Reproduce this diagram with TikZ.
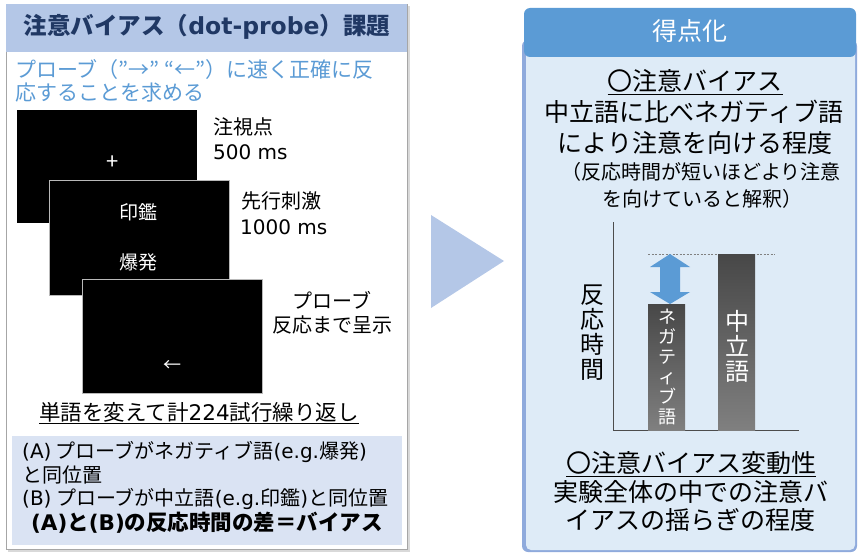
\documentclass[tikz,border=0pt]{standalone}
\usepackage{fontspec}
\setmainfont{Noto Sans CJK JP}
\newfontfamily\latfont{DejaVu Sans}
\newcommand{\lat}[1]{{\latfont #1}}
\usetikzlibrary{shapes.geometric}
\definecolor{hdrblue}{HTML}{B4C7E7}
\definecolor{darkblue}{HTML}{203864}
\definecolor{midblue}{HTML}{5B9BD5}
\definecolor{instrblue}{HTML}{5B9BD5}
\definecolor{paleblue}{HTML}{DAE3F3}
\definecolor{bodyblue}{HTML}{DEEBF7}
\definecolor{edgeblue}{HTML}{8FAADC}
\newcommand{\fsz}[1]{\fontsize{#1}{#1}\selectfont}
\begin{document}
\begin{tikzpicture}[x=1pt,y=-1pt,
  txt/.style={inner sep=0pt, text=black},
  screenbox/.style={draw=gray!55, line width=0.8pt, fill=black},
  scrtxt/.style={inner sep=0pt, text=white, font=\fsz{19}},
  lbl/.style={inner sep=0pt, anchor=west, font=\fsz{20}},
  rtxt/.style={inner sep=0pt, font=\fsz{25}},
  bar/.style={top color=black!72, bottom color=black!50, draw=none}
]
\useasboundingbox (0,0) rectangle (858,553);
% ---------------- left panel ----------------
\fill[black!15] (8,6) rectangle (410,552);
\node[draw=black!35, fill=white, line width=0.8pt, minimum width=401pt, minimum height=545pt, anchor=north west, inner sep=0pt] (leftpanel) at (6,4) {};
\node[fill=hdrblue, minimum width=401pt, minimum height=48pt, anchor=north west, inner sep=0pt] (lefthdr) at (6,4) {};
\node[inner sep=0pt, text=darkblue, font=\fsz{23.5}\bfseries] (title) at (207,27) {注意バイアス（\lat{dot-probe}）課題};
\node[inner sep=0pt, anchor=west, text=instrblue, font=\fsz{21}] (instr1) at (15,70) {プローブ（”→” “←”）に速く正確に反};
\node[inner sep=0pt, anchor=west, text=instrblue, font=\fsz{21}] (instr2) at (15,93) {応することを求める};
% screens
\node[fill=black, minimum width=180pt, minimum height=113pt, anchor=north west, inner sep=0pt] (scr1) at (17,110) {};
\node[inner sep=0pt, text=white, font=\fsz{22}] (plus) at (113,163) {+};
\node[screenbox, minimum width=180pt, minimum height=115pt, anchor=north west, inner sep=0pt] (scr2) at (49,180) {};
\node[scrtxt] (w1) at (138,212) {印鑑};
\node[scrtxt] (w2) at (138,262) {爆発};
\node[screenbox, minimum width=180pt, minimum height=114pt, anchor=north west, inner sep=0pt] (scr3) at (82,279) {};
\node[inner sep=0pt, text=white, font=\fsz{18}] (larrow) at (172,366) {←};
% labels
\node[lbl] (l1a) at (213,127) {注視点};
\node[lbl] (l1b) at (213,152) {\lat{500 ms}};
\node[lbl] (l2a) at (241,201) {先行刺激};
\node[lbl] (l2b) at (240,227) {\lat{1000 ms}};
\node[inner sep=0pt, font=\fsz{20}] (l3a) at (332,300) {プローブ};
\node[inner sep=0pt, font=\fsz{20}] (l3b) at (332,325) {反応まで呈示};
\node[inner sep=0pt, font=\fsz{21.5}] (repeat) at (199,413) {\underline{単語を変えて計\lat{224}試行繰り返し}};
% summary box
\node[fill=paleblue, minimum width=390pt, minimum height=109pt, anchor=north west, inner sep=0pt] (sumbox) at (12,436) {};
\node[inner sep=0pt, anchor=west, font=\fsz{20}] (sa1) at (22,452) {\lat{(A)} プローブがネガティブ語\lat{(e.g.}爆発\lat{)}};
\node[inner sep=0pt, anchor=west, font=\fsz{20}] (sa2) at (22,475) {と同位置};
\node[inner sep=0pt, anchor=west, font=\fsz{20}] (sb) at (22,499) {\lat{(B)} プローブが中立語\lat{(e.g.}印鑑\lat{)}と同位置};
\node[inner sep=0pt, font=\fsz{21.5}\bfseries] (sdiff) at (207,523) {\lat{(A)}と\lat{(B)}の反応時間の差＝バイアス};
% ---------------- arrow triangle ----------------
\fill[hdrblue] (431,215) -- (504,261) -- (431,308) -- cycle;
% ---------------- right panel ----------------
\fill[edgeblue, rounded corners=6pt] (522,40) rectangle (857,552);
\fill[bodyblue, rounded corners=5pt] (526,40) rectangle (855,550);
\fill[midblue, rounded corners=6pt] (524,8) rectangle (856,57);
\node[inner sep=0pt, text=white, font=\fsz{25}] (score) at (690,31) {得点化};
\node[rtxt] (b1) at (695,82) {\underline{〇注意バイアス}};
\node[rtxt] (b2) at (694,112) {中立語に比べネガティブ語};
\node[rtxt] (b3) at (695,143) {により注意を向ける程度};
\node[inner sep=0pt, font=\fsz{20}] (b4) at (701,172) {（反応時間が短いほどより注意};
\node[inner sep=0pt, font=\fsz{20}] (b5) at (702,199) {を向けていると解釈）};
% chart
\draw[black!70, line width=0.8pt] (613,222) -- (613,430) -- (799,430);
\draw[black!50, line width=0.5pt, dash pattern=on 2pt off 1.5pt] (648,254) -- (775,254);
\shade[bar] (648,304) rectangle (685,430);
\shade[bar] (718,254) rectangle (755,430);
\fill[midblue] (650,267) -- (670,254) -- (690,267) -- (680,267) -- (680,292) -- (690,292) -- (670,304) -- (650,292) -- (660,292) -- (660,267) -- cycle;
\node[inner sep=0pt, text=white, align=center, font=\fontsize{18}{20}\selectfont] (negw) at (667,367) {ネ\\ガ\\テ\\ィ\\ブ\\語};
\node[inner sep=0pt, text=white, align=center, font=\fontsize{24}{25}\selectfont] (neuw) at (737,346) {中\\立\\語};
\node[inner sep=0pt, align=center, font=\fontsize{24}{25}\selectfont] (rt) at (592,333) {反\\応\\時\\間};
% bottom text
\node[rtxt] (c1) at (691,464) {\underline{〇注意バイアス変動性}};
\node[rtxt] (c2) at (691,492) {実験全体の中での注意バ};
\node[rtxt] (c3) at (690,520) {イアスの揺らぎの程度};
\end{tikzpicture}
\end{document}
